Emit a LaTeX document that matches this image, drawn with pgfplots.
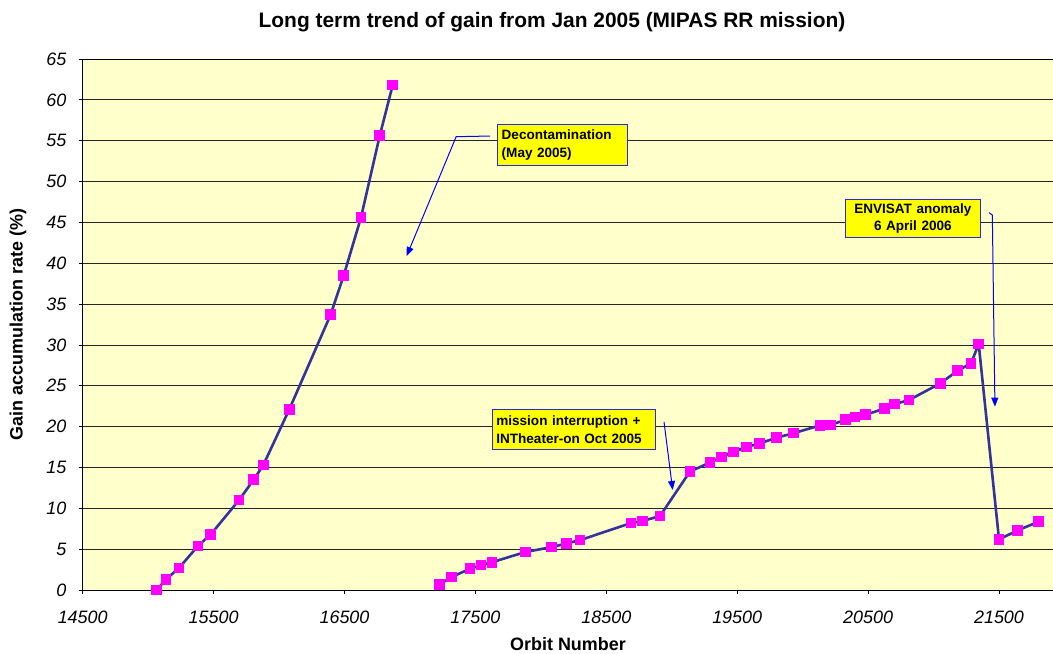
\documentclass[border=0pt]{standalone}
\usepackage{pgfplots}
\pgfplotsset{compat=1.18}
\usepackage{fontspec}
\setmainfont{Liberation Sans}
\usetikzlibrary{arrows.meta}
\definecolor{plotbg}{RGB}{255,255,204}
\definecolor{navy}{RGB}{51,51,153}
\definecolor{mag}{RGB}{255,0,255}
\definecolor{boxyellow}{RGB}{255,255,0}
\definecolor{arrowblue}{RGB}{0,0,255}
\definecolor{boxborder}{RGB}{40,40,230}
\begin{document}
\begin{tikzpicture}
\useasboundingbox (-82.7bp,-64bp) rectangle (970.3bp,590bp);
\begin{axis}[
  scale only axis, width=972bp, height=531bp,
  xmin=14500, xmax=21925.5, ymin=0, ymax=65,
  xtick={14500,15500,...,21500}, ytick={0,5,...,65},
  scaled ticks=false,
  axis background/.style={fill=plotbg},
  ymajorgrids, major grid style={black!85, line width=0.8bp},
  axis line style={black, line width=0.8bp},
  tick align=outside, major tick length=4bp, tick style={black, line width=0.8bp},
  xtick pos=left, ytick pos=left,
  /pgf/number format/assume math mode=true,
  x tick label style={/pgf/number format/1000 sep={}},
  ticklabel style={font=\fontsize{18}{21}\selectfont\itshape},
  xticklabel style={anchor=north, inner sep=0pt, yshift=-16.5bp},
  yticklabel style={anchor=east, inner sep=0pt, xshift=-12.2bp},
  clip=false,
]
\addplot[navy, line width=2.6bp, mark=square*, mark size=4.8bp, mark options={fill=mag, draw=mag, line width=0pt}] coordinates {
(15065,0) (15136,1.3) (15236,2.7) (15381,5.4) (15478,6.8) (15694,11.0) (15806,13.5) (15880,15.3) (16078,22.1) (16394,33.7) (16494,38.5) (16626,45.6) (16769,55.6) (16868,61.8)
};
\addplot[navy, line width=2.6bp, mark=square*, mark size=4.8bp, mark options={fill=mag, draw=mag, line width=0pt}] coordinates {
(17224,0.65) (17319,1.6) (17459,2.6) (17543,3.05) (17627,3.4) (17881,4.65) (18083,5.25) (18197,5.7) (18299,6.1) (18689,8.2) (18778,8.45) (18910,9.05) (19139,14.5) (19292,15.6) (19381,16.3) (19470,16.9) (19570,17.5) (19672,17.95) (19802,18.65) (19932,19.2) (20133,20.15) (20214,20.2) (20329,20.85) (20400,21.2) (20479,21.45) (20624,22.2) (20700,22.75) (20812,23.25) (21052,25.3) (21184,26.85) (21286,27.75) (21345,30.1) (21500,6.2) (21643,7.3) (21800,8.35)
};
\draw[arrowblue, line width=1bp, -{Triangle[length=9bp,width=7bp]}] (axis cs:17612,55.57) -- (axis cs:17353,55.49) -- (axis cs:16975,40.89);
\draw[arrowblue, line width=1bp, -{Triangle[length=9bp,width=7bp]}] (axis cs:18941,20.57) -- (axis cs:19007,12.24);
\draw[arrowblue, line width=1bp, -{Triangle[length=9bp,width=7bp]}] (axis cs:21424,46.19) -- (axis cs:21449,45.9) -- (axis cs:21469,22.44);
\node[draw=boxborder, line width=1bp, fill=boxyellow, text width=122bp, inner sep=4bp, minimum height=41.7bp, align=left, font=\fontsize{13.6}{18}\selectfont\bfseries] at (axis cs:18167,54.49) {Decontamination\\(May 2005)};
\node[draw=boxborder, line width=1bp, fill=boxyellow, text width=155bp, inner sep=4bp, minimum height=40bp, align=left, font=\fontsize{13.6}{18}\selectfont\bfseries] at (axis cs:18252,19.59) {mission interruption +\\INTheater-on Oct 2005};
\node[draw=boxborder, line width=1bp, fill=boxyellow, text width=126.3bp, inner sep=4bp, minimum height=35.3bp, align=center, font=\fontsize{13.6}{17.6}\selectfont\bfseries] at (axis cs:20842,45.49) {ENVISAT anomaly\\6 April 2006};
\end{axis}
\node[font=\fontsize{21}{25}\selectfont\bfseries] at (469.3bp,568bp) {Long term trend of gain from Jan 2005 (MIPAS RR mission)};
\node[font=\fontsize{18}{21}\selectfont\bfseries] at (485.3bp,-54.5bp) {Orbit Number};
\node[font=\fontsize{18}{21}\selectfont\bfseries, rotate=90] at (-64.7bp,265.5bp) {Gain accumulation rate (\%)};
\end{tikzpicture}
\end{document}
